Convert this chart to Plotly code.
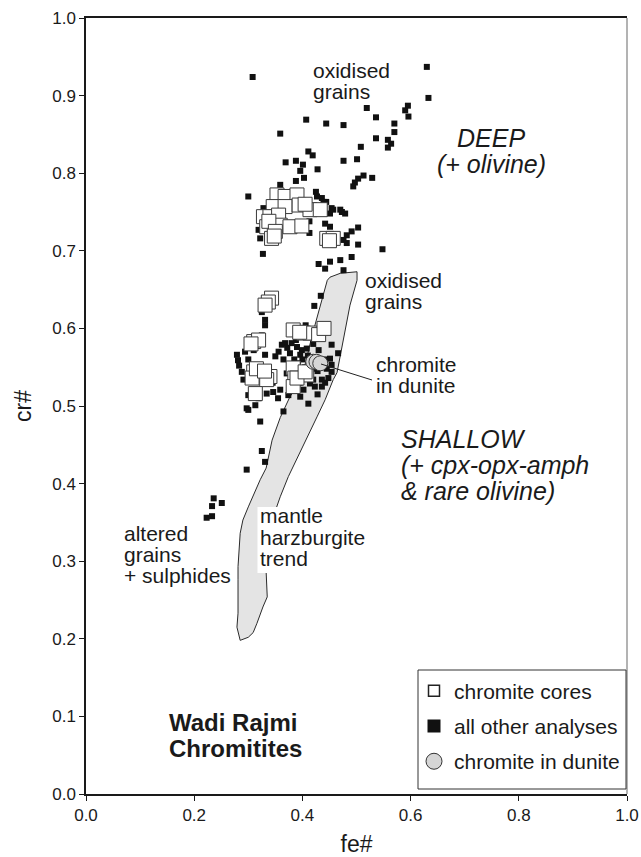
import plotly.graph_objects as go

# ---------------- data ----------------
other_x = [0.308,0.630,0.633,0.519,0.595,0.590,0.596,0.536,0.407,0.444,0.476,0.570,0.570,0.359,0.536,0.558,0.564,0.558,0.508,0.411,
           0.419,0.388,0.369,0.401,0.476,0.501,0.428,0.396,0.403,0.513,0.529,0.503,0.497,0.494,0.388,0.359,0.300,0.425,0.436,0.444,
           0.454,0.470,0.479,0.451,0.413,0.442,0.451,0.413,0.503,0.491,0.482,0.476,0.482,0.503,0.548,0.327,0.322,0.457,0.491,0.470,
           0.451,0.430,0.442,0.476,0.328,0.427,0.439,0.457,0.473,0.322,0.319,
           0.434,0.422,0.325,0.331,0.331,0.325,0.406,0.279,0.281,0.294,0.310,0.331,0.350,0.356,0.362,0.368,0.380,0.390,0.399,0.408,
           0.377,0.396,0.454,0.466,0.451,0.454,0.454,0.448,0.436,0.436,0.423,0.414,0.402,0.411,0.396,0.374,0.359,0.346,0.334,0.319,
           0.300,0.297,0.313,0.288,0.291,0.365,0.322,0.325,0.331,0.297,0.371,0.383,0.396,0.420,
           0.385,0.392,0.400,0.410,0.415,0.405,0.418,0.428,0.440,0.445,0.430,0.420,0.388,0.372,0.365,0.405,0.395,0.385,0.428,0.442,
           0.283,0.300,0.345,0.355,
           0.236,0.251,0.233,0.233,0.223,0.300]
other_y = [0.924,0.937,0.897,0.884,0.887,0.881,0.873,0.872,0.869,0.864,0.862,0.864,0.853,0.851,0.845,0.843,0.838,0.833,0.834,0.828,
           0.823,0.816,0.814,0.811,0.816,0.818,0.805,0.803,0.794,0.797,0.794,0.793,0.788,0.783,0.790,0.785,0.770,0.776,0.768,0.763,
           0.755,0.753,0.748,0.748,0.738,0.735,0.731,0.723,0.730,0.725,0.720,0.714,0.710,0.708,0.702,0.696,0.716,0.708,0.692,0.688,
           0.686,0.683,0.677,0.675,0.755,0.770,0.763,0.753,0.750,0.748,0.727,
           0.642,0.629,0.621,0.611,0.604,0.591,0.604,0.566,0.559,0.570,0.572,0.566,0.564,0.570,0.579,0.581,0.581,0.576,0.572,0.574,
           0.568,0.566,0.579,0.568,0.561,0.553,0.544,0.536,0.534,0.525,0.525,0.529,0.521,0.503,0.512,0.514,0.521,0.518,0.516,0.510,
           0.514,0.497,0.501,0.544,0.534,0.493,0.480,0.442,0.428,0.418,0.542,0.549,0.546,0.534,
           0.560,0.555,0.560,0.565,0.558,0.550,0.548,0.545,0.560,0.548,0.572,0.580,0.585,0.575,0.560,0.540,0.530,0.525,0.515,0.530,
           0.552,0.560,0.530,0.510,
           0.381,0.375,0.371,0.358,0.356,0.495]

cores_x = [0.353,0.368,0.390,0.346,0.368,0.394,0.414,0.433,0.328,0.340,0.356,0.334,0.359,0.377,0.399,0.343,0.445,0.457,
           0.338,0.350,0.405,0.450,0.348,
           0.343,0.337,0.331,0.383,0.402,0.414,0.430,0.440,0.310,0.319,0.310,0.322,0.307,0.340,0.334,0.313,0.383,0.386,0.383,0.408,
           0.315,0.330,0.395,0.305,0.390,0.405]
cores_y = [0.772,0.770,0.772,0.757,0.757,0.759,0.753,0.753,0.744,0.744,0.746,0.731,0.733,0.731,0.732,0.716,0.716,0.716,
           0.738,0.725,0.760,0.713,0.719,
           0.639,0.634,0.630,0.598,0.594,0.594,0.592,0.600,0.583,0.585,0.544,0.540,0.536,0.538,0.534,0.516,0.549,0.536,0.525,0.540,
           0.548,0.545,0.595,0.580,0.536,0.544]

dunite_x = [0.420, 0.426, 0.433]
dunite_y = [0.557, 0.557, 0.555]

trend_x = [0.451,0.470,0.501,0.501,0.488,0.475,0.464,0.457,0.442,0.427,0.409,0.390,0.374,0.359,0.344,0.335,0.333,0.335,0.327,0.316,
           0.309,0.300,0.285,0.279,0.281,0.281,0.281,0.285,0.290,0.300,0.313,0.322,0.333,0.344,0.359,0.377,0.396,0.407,0.418,0.429,
           0.446,0.451]
trend_y = [0.666,0.671,0.673,0.662,0.630,0.585,0.543,0.534,0.508,0.486,0.460,0.434,0.409,0.383,0.353,0.321,0.286,0.254,0.241,0.220,
           0.208,0.202,0.198,0.215,0.233,0.276,0.293,0.336,0.353,0.370,0.392,0.405,0.420,0.456,0.485,0.512,0.531,0.559,0.591,0.620,
           0.662,0.666]

x_ticks = [0.0, 0.2, 0.4, 0.6, 0.8, 1.0]
y_ticks = [0.0, 0.1, 0.2, 0.3, 0.4, 0.5, 0.6, 0.7, 0.8, 0.9, 1.0]

FONT = "Liberation Sans, Arial, sans-serif"

# pixel helpers (layout positioning only; plot area spans px 86..627 x 18..794)
def X(px):
    return (px - 86.0) / 541.0

def Y(py):
    return (794.0 - py) / 776.0

fig = go.Figure()

fig.add_trace(go.Scatter(x=trend_x, y=trend_y, mode="lines", fill="toself",
                         fillcolor="#e4e4e4", line=dict(color="#2a2a2a", width=1),
                         showlegend=False, hoverinfo="skip"))
fig.add_trace(go.Scatter(x=other_x, y=other_y, mode="markers", showlegend=False,
                         marker=dict(symbol="square", size=6, color="#111111", line=dict(width=0))))
fig.add_trace(go.Scatter(x=cores_x, y=cores_y, mode="markers", showlegend=False,
                         marker=dict(symbol="square", size=14, color="white",
                                     line=dict(color="#3a3a3a", width=1))))
fig.add_trace(go.Scatter(x=dunite_x, y=dunite_y, mode="markers", showlegend=False,
                         marker=dict(symbol="circle", size=15, color="#d6d6d6",
                                     line=dict(color="#3a3a3a", width=1))))

# legend entries
fig.add_trace(go.Scatter(x=[None], y=[None], mode="markers", name="chromite cores", legendgroup="a",
                         marker=dict(symbol="square", size=11, color="white", line=dict(color="#222", width=1.5))))
fig.add_trace(go.Scatter(x=[None], y=[None], mode="markers", name="all other analyses", legendgroup="b",
                         marker=dict(symbol="square", size=13, color="#111111", line=dict(width=0))))
fig.add_trace(go.Scatter(x=[None], y=[None], mode="markers", name="chromite in dunite", legendgroup="c",
                         marker=dict(symbol="circle", size=16, color="#d6d6d6", line=dict(color="#333", width=1))))

annotations = []

def txt(s, left, base, size=21, style="normal", weight="normal", anchor="left"):
    annotations.append(dict(text=s, x=X(left), y=Y(base - 0.3465 * size), xref="x", yref="y",
                            xanchor=anchor, yanchor="middle", showarrow=False,
                            font=dict(family=FONT, size=size, color="#1a1a1a", style=style, weight=weight)))

txt("oxidised", 311, 78)
txt("grains", 311, 99)
txt("DEEP", 491, 147, size=25, style="italic", anchor="center")
txt("(+ olivine)", 491, 173, size=25, style="italic", anchor="center")
txt("oxidised", 363, 288)
txt("grains", 363, 309)
txt("chromite", 374, 372)
txt("in dunite", 374, 393)
txt("SHALLOW", 399, 448, size=25, style="italic")
txt("(+ cpx-opx-amph", 399, 474, size=25, style="italic")
txt("& rare olivine)", 399, 500, size=25, style="italic")
txt("altered", 122, 541)
txt("grains", 122, 562)
txt("+ sulphides", 122, 583)
txt("mantle", 258, 523)
txt("harzburgite", 258, 545)
txt("trend", 258, 566)
txt("Wadi Rajmi", 167, 731, size=24, weight="bold")
txt("Chromitites", 167, 757, size=24, weight="bold")

shapes = [
    # white backing behind the trend label
    dict(type="rect", xref="x", yref="y", x0=X(257.5), x1=X(300), y0=Y(573), y1=Y(507),
         fillcolor="white", line=dict(width=0), layer="above"),
    # connector from dunite chromite to its label
    dict(type="line", xref="x", yref="y", x0=X(321), y0=Y(364), x1=X(372), y1=Y(380),
         line=dict(color="#222", width=1), layer="above"),
    # right frame (grey)
    dict(type="line", xref="paper", yref="paper", x0=1, x1=1, y0=0, y1=1,
         line=dict(color="#9a9a9a", width=1.5), layer="above"),
    # legend frame
    dict(type="rect", xref="paper", yref="paper", x0=X(418), x1=X(626), y0=Y(789), y1=Y(670),
         fillcolor="white", line=dict(color="#333333", width=1), layer="above"),
]

axis_common = dict(range=[0, 1], showgrid=False, zeroline=False, showline=True,
                   linecolor="#1a1a1a", linewidth=1.5, ticks="outside", ticklen=5,
                   tickwidth=1, tickcolor="#1a1a1a", tickformat=".1f",
                   tickfont=dict(family=FONT, size=17, color="#1a1a1a"))

fig.update_layout(
    width=641, height=857,
    margin=dict(l=86, r=14, t=18, b=63, autoexpand=False),
    paper_bgcolor="white", plot_bgcolor="white",
    xaxis=dict(**axis_common, tickvals=x_ticks, mirror=True,
               title=dict(text="fe#", font=dict(family=FONT, size=23, color="#1a1a1a"), standoff=15)),
    yaxis=dict(**axis_common, tickvals=y_ticks, mirror=False,
               title=dict(text="cr#", font=dict(family=FONT, size=23, color="#1a1a1a"), standoff=14)),
    legend=dict(x=X(414), xanchor="left", y=Y(670.5), yanchor="top",
                bgcolor="rgba(0,0,0,0)", borderwidth=0,
                font=dict(family=FONT, size=21, color="#1a1a1a"),
                tracegroupgap=5, itemclick=False, itemdoubleclick=False),
    annotations=annotations,
    shapes=shapes,
    showlegend=True,
)

fig.write_html("out.html")
